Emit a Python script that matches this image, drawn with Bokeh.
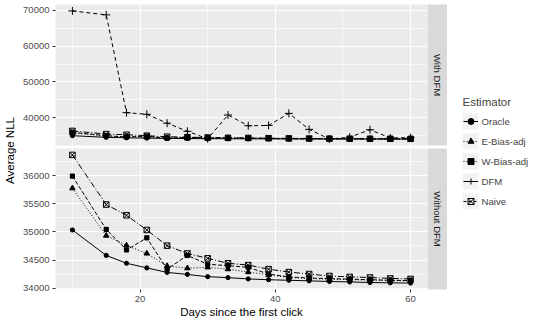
import numpy as np
from bokeh.plotting import figure
from bokeh.models import (FixedTicker, NumeralTickFormatter, Range1d, Label,
                          Legend, LegendItem)
from bokeh.layouts import row, column
from bokeh.embed import file_html
from bokeh.resources import INLINE

# ---------------- data ----------------
days = [10, 15, 18, 21, 24, 27, 30, 33, 36, 39, 42, 45, 48, 51, 54, 57, 60]

oracle = [35035, 34582, 34443, 34360, 34280, 34244, 34204, 34187, 34164,
          34150, 34140, 34130, 34118, 34111, 34100, 34095, 34090]
e_bias_adj = [35777, 34935, 34760, 34617, 34395, 34355, 34370, 34338, 34285,
              34235, 34190, 34170, 34160, 34150, 34145, 34135, 34130]
w_bias_adj = [35993, 35045, 34680, 34895, 34338, 34582, 34425, 34400, 34370,
              34251, 34200, 34180, 34170, 34160, 34150, 34140, 34135]
naive = [36370, 35487, 35296, 35035, 34756, 34617, 34530, 34443, 34410,
         34338, 34286, 34251, 34216, 34200, 34190, 34173, 34164]
dfm = [69800, 68700, 41450, 41000, 38530, 36270, 34170, 40800, 37800,
       37900, 41250, 36800, 34100, 34600, 36700, 34400, 34500]

estimators = ["Oracle", "E-Bias-adj", "W-Bias-adj", "DFM", "Naive"]
panel_labels = ["With DFM", "Without DFM"]

top_series = {"Oracle": oracle, "E-Bias-adj": e_bias_adj,
              "W-Bias-adj": w_bias_adj, "DFM": dfm, "Naive": naive}
bottom_series = {"Oracle": oracle, "E-Bias-adj": e_bias_adj,
                 "W-Bias-adj": w_bias_adj, "Naive": naive}

top_y_ticks = [40000, 50000, 60000, 70000]
top_y_minor = [35000, 45000, 55000, 65000]
bottom_y_ticks = [34000, 34500, 35000, 35500, 36000]
bottom_y_minor = [34250, 34750, 35250, 35750, 36250]
x_ticks = [20, 40, 60]
x_minor = [10, 30, 50]

# ---------------- styles ----------------
FONT = "Liberation Sans"
STYLE = {
    "Oracle":     dict(dash="solid",   ldash="solid", marker="circle",   size=4.2, fill="black"),
    "E-Bias-adj": dict(dash="1 2",     ldash="1 2",   marker="triangle", size=5.5, fill="black"),
    "W-Bias-adj": dict(dash="4 2",     ldash="1 2",   marker="square",   size=4.2, fill="black"),
    "DFM":        dict(dash="4 3",     ldash="solid", marker="cross",    size=8,   fill=None),
    "Naive":      dict(dash="6 2 1 2", ldash="3 2",   marker="square_x", size=5.5, fill=None),
}

YLAB_W = 17
LEFT_B = 38
FRAME_W = 372
PANEL_W = LEFT_B + FRAME_W
STRIP_W = 20
TOP_B = 4
GAP = 3
TOP_FRAME = 141
BOT_FRAME = 142
BOT_B = 30
TOP_H = TOP_B + TOP_FRAME + GAP
BOT_H = BOT_FRAME + BOT_B
TOTAL_H = TOP_H + BOT_H
LEG_W = 529 - YLAB_W - PANEL_W - STRIP_W


def expand(vals):
    lo, hi = min(vals), max(vals)
    pad = 0.05 * (hi - lo)
    return lo - pad, hi + pad


def make_panel(series, yticks, yminor, height, show_x, border_top, border_bottom):
    allv = [v for vals in series.values() for v in vals]
    ylo, yhi = expand(allv)
    xlo, xhi = expand(days)
    p = figure(width=PANEL_W, height=height,
               x_range=Range1d(xlo, xhi), y_range=Range1d(ylo, yhi),
               x_axis_location="below" if show_x else None,
               output_backend="svg", toolbar_location=None,
               min_border_left=LEFT_B, min_border_right=0,
               min_border_top=border_top, min_border_bottom=border_bottom)
    p.background_fill_color = "#EBEBEB"
    p.border_fill_color = "white"
    p.outline_line_color = None

    xt = FixedTicker(ticks=x_ticks, minor_ticks=x_minor)
    yt = FixedTicker(ticks=yticks, minor_ticks=yminor)
    for g in p.xgrid:
        g.ticker = xt
    for g in p.ygrid:
        g.ticker = yt
    p.grid.grid_line_color = "white"
    p.grid.grid_line_width = 1.2
    p.grid.minor_grid_line_color = "white"
    p.grid.minor_grid_line_width = 0.6

    axes = list(p.yaxis) + (list(p.xaxis) if show_x else [])
    for ax in axes:
        ax.axis_line_color = None
        ax.major_tick_line_color = "#333333"
        ax.major_tick_in = 0
        ax.major_tick_out = 3
        ax.minor_tick_line_color = None
        ax.major_label_text_font = FONT
        ax.major_label_text_font_size = "9.5px"
        ax.major_label_text_color = "#4D4D4D"
        ax.major_label_standoff = 2
    p.yaxis.ticker = yt
    p.yaxis.formatter = NumeralTickFormatter(format="0")
    if show_x:
        p.xaxis.ticker = xt
        p.xaxis.axis_label = "Days since the first click"
        p.xaxis.axis_label_text_font = FONT
        p.xaxis.axis_label_text_font_size = "11.5px"
        p.xaxis.axis_label_text_font_style = "normal"
        p.xaxis.axis_label_text_color = "black"
        p.xaxis.axis_label_standoff = 1

    for name, vals in series.items():
        st = STYLE[name]
        p.line(days, vals, line_color="black", line_width=1.0, line_dash=st["dash"])
    for name, vals in series.items():
        st = STYLE[name]
        p.scatter(days, vals, marker=st["marker"], size=st["size"],
                  fill_color=st["fill"], line_color="black", line_width=1)
    return p


def make_strip(text, height, border_top, border_bottom):
    s = figure(width=STRIP_W, height=height, x_range=Range1d(0, 1), y_range=Range1d(0, 1),
               x_axis_location=None, y_axis_location=None,
               output_backend="svg", toolbar_location=None,
               min_border_left=0, min_border_right=0, min_border_top=border_top,
               min_border_bottom=border_bottom)
    s.background_fill_color = "#D9D9D9"
    s.border_fill_color = "white"
    s.outline_line_color = None
    s.xgrid.visible = False
    s.ygrid.visible = False
    s.add_layout(Label(x=0.5, y=0.5, text=text, angle=-90, angle_units="deg",
                       text_align="center", text_baseline="middle",
                       text_font=FONT, text_font_size="9.5px", text_color="#1A1A1A"))
    return s


top = make_panel(top_series, top_y_ticks, top_y_minor, TOP_H, False, TOP_B, GAP)
bottom = make_panel(bottom_series, bottom_y_ticks, bottom_y_minor, BOT_H, True, 0, BOT_B)
top_strip = make_strip(panel_labels[0], TOP_H, TOP_B, GAP)
bottom_strip = make_strip(panel_labels[1], BOT_H, 0, BOT_B)

# y-axis title spanning both panels
ylab = figure(width=YLAB_W, height=TOTAL_H, x_range=Range1d(0, 1), y_range=Range1d(0, 1),
              x_axis_location=None, y_axis_location=None,
              output_backend="svg", toolbar_location=None, min_border=0)
ylab.outline_line_color = None
ylab.xgrid.visible = False
ylab.ygrid.visible = False
ylab.add_layout(Label(x=9, y=TOTAL_H - 150, x_units="screen", y_units="screen",
                      text="Average NLL", angle=90, angle_units="deg",
                      text_align="center", text_baseline="middle",
                      text_font=FONT, text_font_size="11.5px", text_color="black"))

# legend figure (two stacked legends: key backgrounds, then lines/markers/labels)
leg = figure(width=LEG_W, height=TOTAL_H, x_range=Range1d(0, 1), y_range=Range1d(0, 1),
             x_axis_location=None, y_axis_location=None,
             output_backend="svg", toolbar_location=None, min_border=0)
leg.outline_line_color = None
leg.xgrid.visible = False
leg.ygrid.visible = False
bg_items, fg_items = [], []
for name in estimators:
    vals = top_series[name]
    st = STYLE[name]
    bg = leg.quad(left=days, right=days, bottom=vals, top=vals,
                  fill_color="#F2F2F2", line_color=None)
    ln = leg.line(days, vals, line_color="black", line_width=1.0, line_dash=st["ldash"])
    mk = leg.scatter(days, vals, marker=st["marker"], size=st["size"],
                     fill_color=st["fill"], line_color="black", line_width=1)
    bg_items.append(LegendItem(label="", renderers=[bg]))
    fg_items.append(LegendItem(label=name, renderers=[ln, mk]))

LX, LY = 13, 109
common = dict(label_text_font=FONT, label_text_font_size="9.6px",
              glyph_height=20, label_height=20, spacing=-2,
              padding=0, margin=0, border_line_color=None, background_fill_alpha=0)
legend_bg = Legend(items=bg_items, location=(LX, LY), glyph_width=20,
                   label_standoff=0, label_width=0, **common)
legend_fg = Legend(items=fg_items, location=(LX + 2.5, LY), glyph_width=15,
                   label_standoff=4, title="Estimator", title_text_font=FONT,
                   title_text_font_size="11.5px", title_text_font_style="normal",
                   title_standoff=3, **common)
leg.add_layout(legend_bg, "center")
leg.add_layout(legend_fg, "center")

p = row(ylab, column(row(top, top_strip), row(bottom, bottom_strip)), leg)

open("out.html", "w").write(file_html(p, INLINE))
